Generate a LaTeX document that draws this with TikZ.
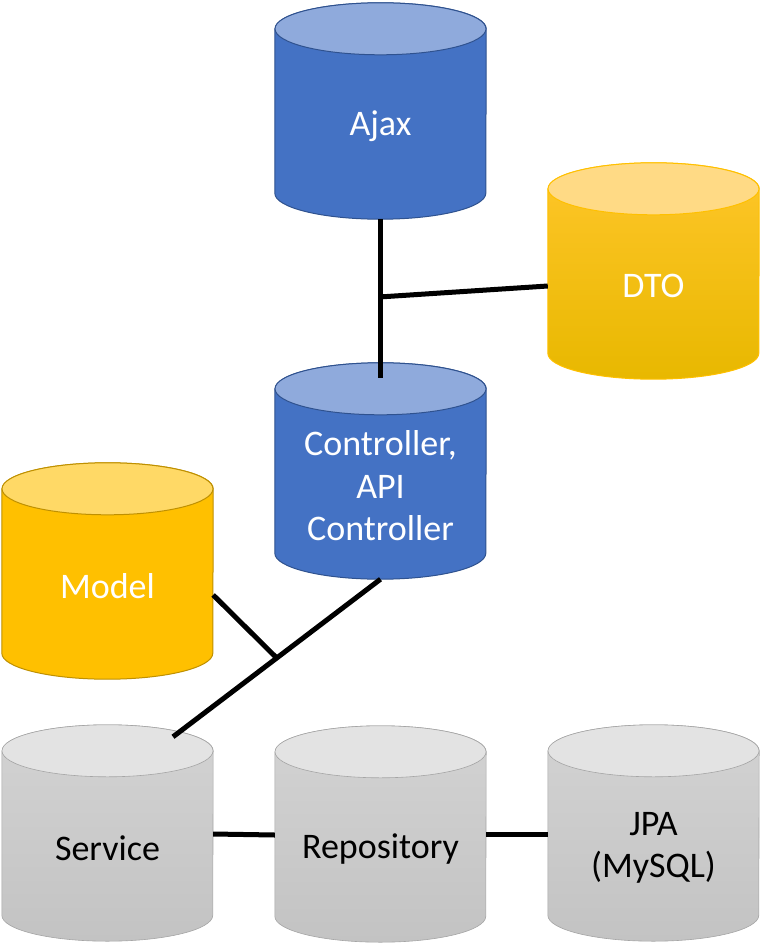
\documentclass[tikz,border=0pt]{standalone}
\usepackage{fontspec}
\setmainfont{Carlito}
\usepackage{tikz}
\usetikzlibrary{calc,backgrounds}

\definecolor{bluFill}{HTML}{4472C4}
\definecolor{bluCap}{HTML}{8FAADC}
\definecolor{bluLine}{HTML}{2F528F}
\definecolor{gldFill}{HTML}{FFC000}
\definecolor{gldCap}{HTML}{FFD966}
\definecolor{gldLine}{HTML}{BF9000}
\definecolor{dtoTop}{HTML}{FFC62A}
\definecolor{dtoBot}{HTML}{E8B800}
\definecolor{dtoCap}{HTML}{FFDA85}
\definecolor{gryTop}{HTML}{D3D3D3}
\definecolor{gryBot}{HTML}{C3C3C3}
\definecolor{gryCap}{HTML}{E3E3E3}
\definecolor{gryLine}{HTML}{A5A5A5}

\tikzset{
  cyl/.style={minimum width=211pt, minimum height=186pt, inner sep=0pt,
    align=center, font=\fontsize{36}{42.5}\selectfont},
  wire/.style={line width=5pt},
  bluebody/.style={draw=bluLine, fill=bluFill, line width=1pt},
  bluecap/.style={draw=bluLine, fill=bluCap, line width=1pt},
  goldbody/.style={draw=gldLine, fill=gldFill, line width=1pt},
  goldcap/.style={draw=gldLine, fill=gldCap, line width=1pt},
  dtobody/.style={draw=gldFill, top color=dtoTop, middle color=gldFill, bottom color=dtoBot, line width=1pt},
  dtocap/.style={draw=gldFill, fill=dtoCap, line width=1pt},
  greybody/.style={draw=gryLine, top color=gryTop, bottom color=gryBot, line width=0.6pt},
  greycap/.style={draw=gryLine, fill=gryCap, line width=0.6pt},
}

\begin{document}
\begin{tikzpicture}[x=1pt,y=1pt]
  \useasboundingbox (0,0) rectangle (760,-944);

  % cylinders
  \node[cyl, text=white] (ajax) at (380.5,-126) {Ajax};
  \node[cyl, text=white] (dto) at (653.5,-286) {DTO};
  \node[cyl, text=white] (ctrl) at (380.5,-486) {Controller,\\API\\Controller};
  \node[cyl, text=white] (model) at (107.5,-586) {Model};
  \node[cyl] (service) at (107.5,-848) {Service};
  \node[cyl] (repo) at (380.5,-849) {Repository};
  \node[cyl] (jpa) at (653.5,-848) {JPA\\(MySQL)};

  \begin{scope}[on background layer]
    \foreach \nm/\bd/\cp in {ajax/bluebody/bluecap, dto/dtobody/dtocap,
        ctrl/bluebody/bluecap, model/goldbody/goldcap, service/greybody/greycap,
        repo/greybody/greycap, jpa/greybody/greycap} {
      \draw[\bd] ($(\nm.north west)+(0,4)$) -- ($(\nm.south west)+(0,26)$)
        arc[start angle=180, end angle=360, x radius=105.5pt, y radius=26pt]
        -- ($(\nm.north east)+(0,4)$)
        arc[start angle=0, end angle=180, x radius=105.5pt, y radius=26pt] -- cycle;
      \draw[\cp] ($(\nm.north)+(0,4)$) ellipse[x radius=105.5pt, y radius=26pt];
    }
  \end{scope}

  % connectors
  \coordinate (j1) at ($(ajax.south)!0.49!([yshift=15pt]ctrl.north)$);
  \coordinate (s1) at ($(service.north)+(65.5,18)$);
  \coordinate (j2) at ($(ctrl.south)!0.5!(s1)$);
  \draw[wire] (ajax.south) -- ([yshift=15pt]ctrl.north);
  \draw[wire] (j1) -- (dto.west);
  \draw[wire] (ctrl.south) -- (s1);
  \draw[wire] ([yshift=-9pt]model.east) -- (j2);
  \draw[wire] ([yshift=14pt]service.east) -- ([yshift=14pt]repo.west -| repo.west);
  \draw[wire] ([yshift=14pt]service.east -| repo.east) -- ([yshift=14pt]jpa.west);
\end{tikzpicture}
\end{document}
